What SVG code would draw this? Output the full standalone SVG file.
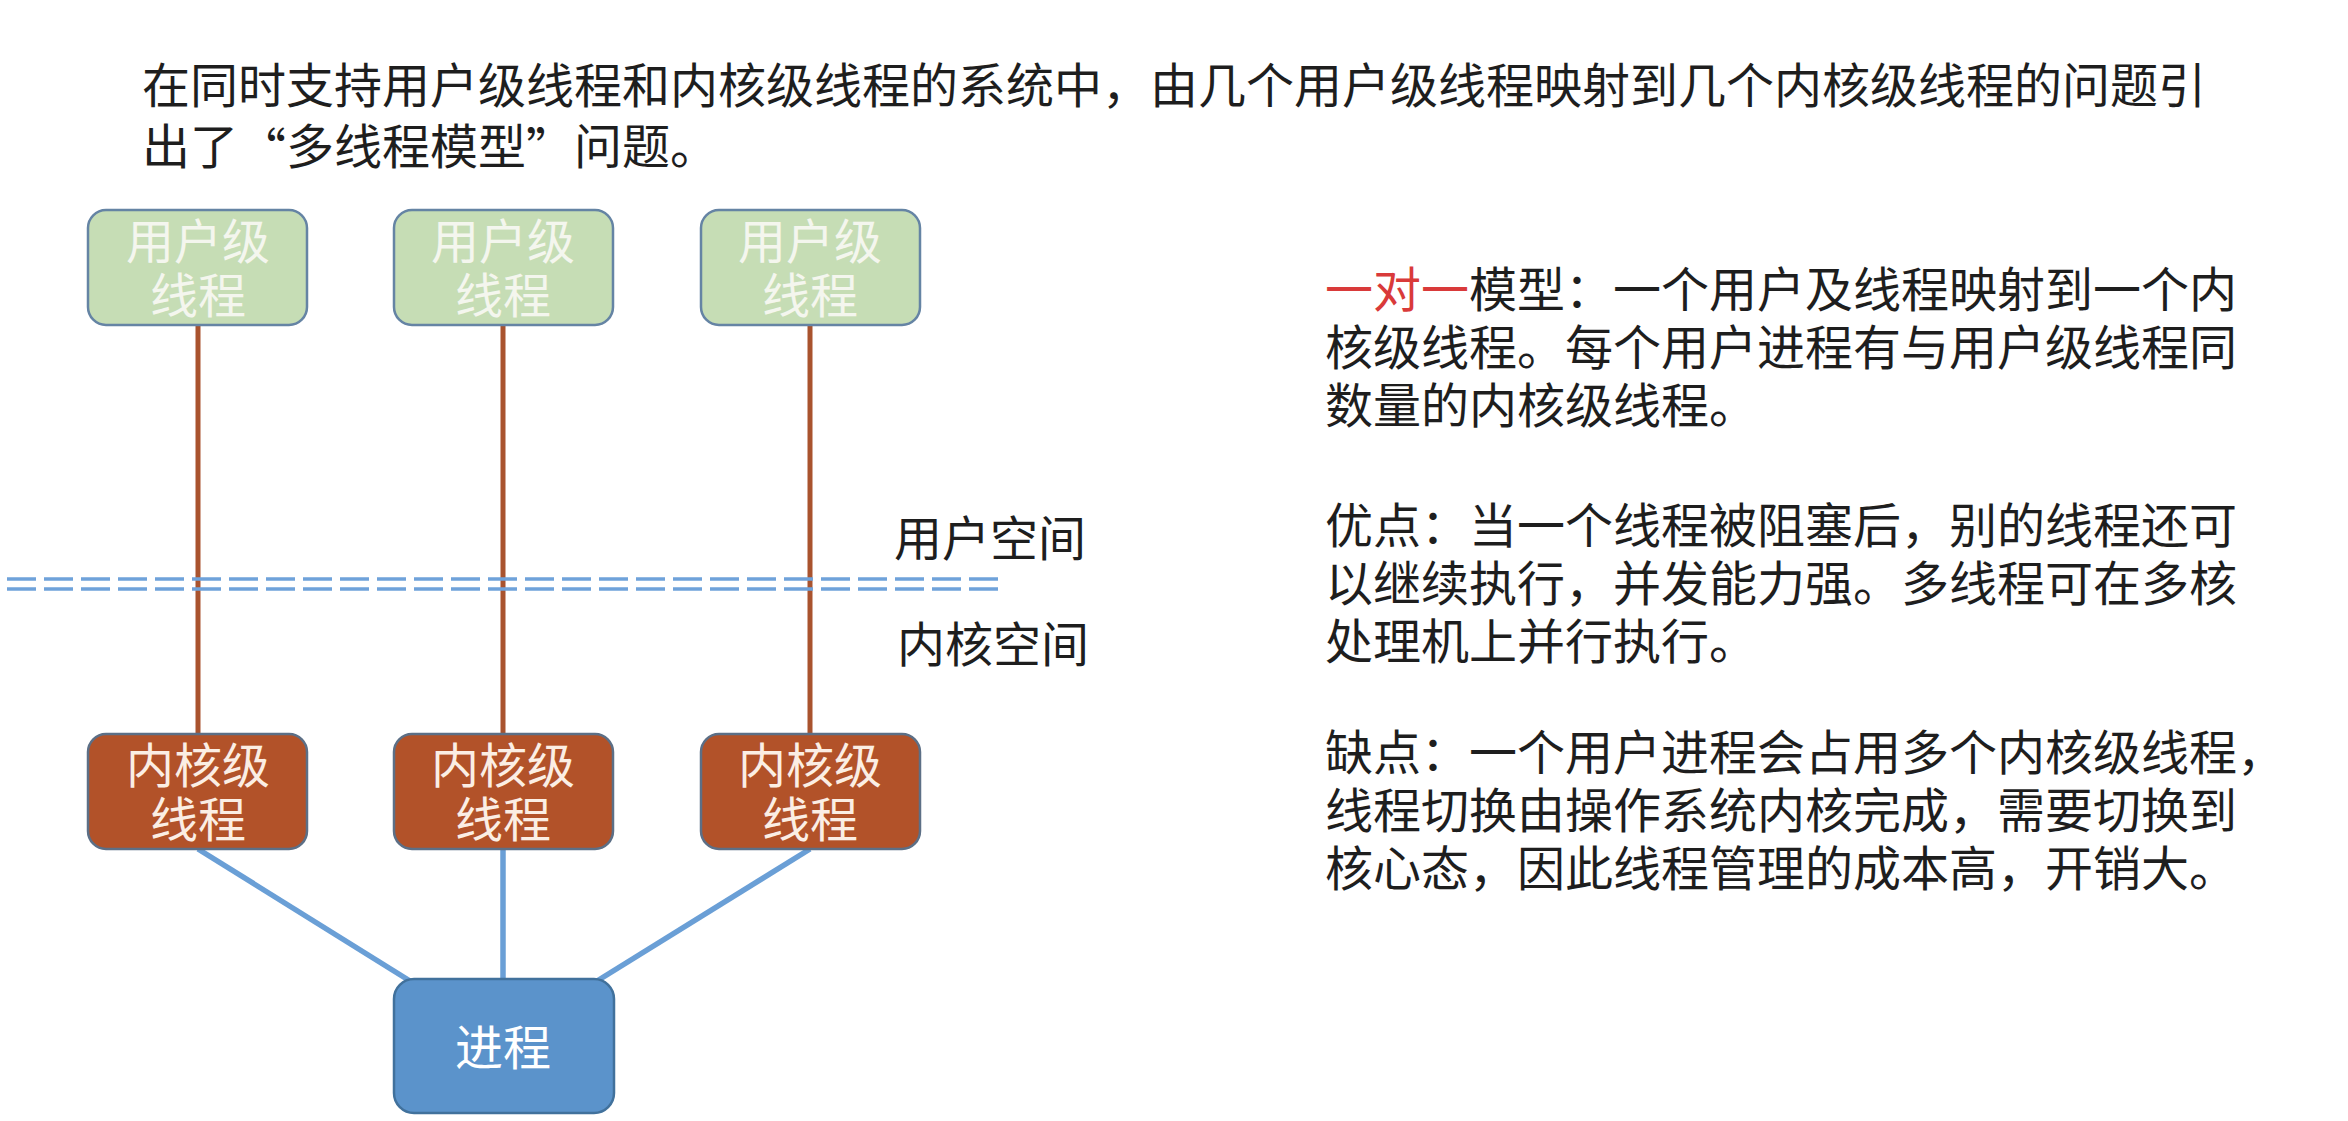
<svg xmlns="http://www.w3.org/2000/svg" width="2348" height="1121" viewBox="0 0 2348 1121">
<style>
text{font-family:"Liberation Sans","Noto Sans CJK SC",sans-serif;font-size:48px;dominant-baseline:central}
.cjk{font-family:"Noto Sans CJK SC",sans-serif}
.body{fill:#1e1e1e}
.red{fill:#d93a3a}
.box-text{fill:#ffffff;text-anchor:middle}
.user rect{fill:#c6ddb5;stroke:#6584a4;stroke-width:2.5}
.user text{fill:#f4f6ee}
.kernel rect{fill:#b25229;stroke:#5c6f86;stroke-width:2.5}
.kernel text{fill:#fbeee4}
.proc rect{fill:#5b93cb;stroke:#41719c;stroke-width:2.5}
.brown{stroke:#a9532e;stroke-width:5;fill:none}
.blue{stroke:#6a9fd6;stroke-width:5.5;fill:none}
.dash{stroke:#6fa2da;stroke-width:3.5;stroke-dasharray:29 8;fill:none}
</style>
<rect width="2348" height="1121" fill="#ffffff"/>

<g id="title" class="body">
<text x="142" y="86">在同时支持用户级线程和内核级线程的系统中，由几个用户级线程映射到几个内核级线程的问题引</text>
<text x="142" y="147">出了<tspan class="cjk">“</tspan>多线程模型<tspan class="cjk">”</tspan>问题。</text>
</g>

<g id="connectors">
<line class="brown" x1="198" y1="325" x2="198" y2="734"/>
<line class="brown" x1="503" y1="325" x2="503" y2="734"/>
<line class="brown" x1="810" y1="325" x2="810" y2="734"/>
<line class="blue" x1="198" y1="849" x2="410" y2="981"/>
<line class="blue" x1="503" y1="849" x2="503" y2="979"/>
<line class="blue" x1="810" y1="849" x2="597" y2="981"/>
</g>

<g id="space-divider">
<line class="dash" x1="7" y1="579" x2="1000" y2="579"/>
<line class="dash" x1="7" y1="589" x2="1000" y2="589"/>
</g>

<g id="user1" class="user"><rect x="88" y="210" width="219" height="115" rx="18"/><text class="box-text"><tspan x="198" y="242">用户级</tspan><tspan x="198" y="296">线程</tspan></text></g>
<g id="user2" class="user"><rect x="394" y="210" width="219" height="115" rx="18"/><text class="box-text"><tspan x="503" y="242">用户级</tspan><tspan x="503" y="296">线程</tspan></text></g>
<g id="user3" class="user"><rect x="701" y="210" width="219" height="115" rx="18"/><text class="box-text"><tspan x="810" y="242">用户级</tspan><tspan x="810" y="296">线程</tspan></text></g>

<g id="kernel1" class="kernel"><rect x="88" y="734" width="219" height="115" rx="18"/><text class="box-text"><tspan x="198" y="766">内核级</tspan><tspan x="198" y="820">线程</tspan></text></g>
<g id="kernel2" class="kernel"><rect x="394" y="734" width="219" height="115" rx="18"/><text class="box-text"><tspan x="503" y="766">内核级</tspan><tspan x="503" y="820">线程</tspan></text></g>
<g id="kernel3" class="kernel"><rect x="701" y="734" width="219" height="115" rx="18"/><text class="box-text"><tspan x="810" y="766">内核级</tspan><tspan x="810" y="820">线程</tspan></text></g>

<g id="process" class="proc"><rect x="394" y="979" width="220" height="134" rx="20"/><text class="box-text" x="503" y="1048">进程</text></g>

<g id="space-labels" class="body">
<text x="894" y="539">用户空间</text>
<text x="897" y="645">内核空间</text>
</g>

<g id="description" class="body">
<text x="1325" y="290"><tspan class="red">一对一</tspan>模型：一个用户及线程映射到一个内</text>
<text x="1325" y="348">核级线程。每个用户进程有与用户级线程同</text>
<text x="1325" y="406">数量的内核级线程。</text>
<text x="1325" y="526">优点：当一个线程被阻塞后，别的线程还可</text>
<text x="1325" y="584">以继续执行，并发能力强。多线程可在多核</text>
<text x="1325" y="642">处理机上并行执行。</text>
<text x="1325" y="753">缺点：一个用户进程会占用多个内核级线程，</text>
<text x="1325" y="811">线程切换由操作系统内核完成，需要切换到</text>
<text x="1325" y="869">核心态，因此线程管理的成本高，开销大。</text>
</g>
</svg>
